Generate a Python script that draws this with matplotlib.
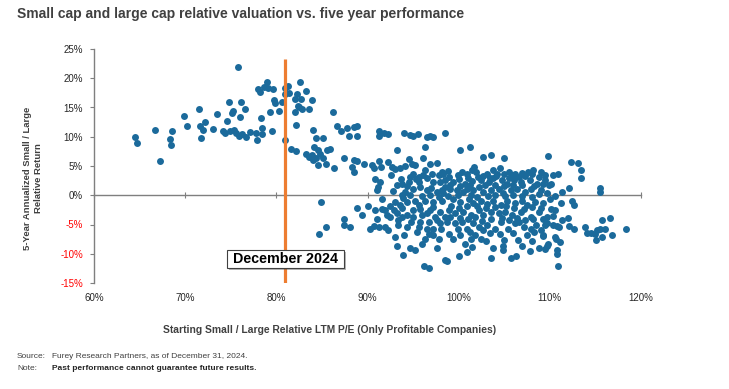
import matplotlib
matplotlib.use("Agg")
import matplotlib.pyplot as plt
import matplotlib.patheffects as pe

plt.rcParams['font.family'] = ['Liberation Sans', 'DejaVu Sans']

# 数据 (相对 P/E %, 五年年化相对回报 %)
pe_left = [64.5, 64.7, 66.7, 67.2, 68.3, 68.5, 68.6, 69.9, 70.2, 71.5, 71.6, 71.7, 72.0, 72.2,
           73.1, 73.5, 74.2, 74.4, 74.6, 74.8, 75.1, 75.2, 74.9, 75.4, 75.6, 75.8, 75.9, 76.0,
           76.1, 76.2, 76.6, 76.7, 77.1, 77.8, 77.9, 78.0, 78.2, 78.3, 78.4, 78.4, 78.7, 79.0,
           79.1, 79.3, 79.5, 79.6, 79.7, 79.9, 80.3, 80.6, 80.9, 80.9, 81.0, 81.3, 81.4, 81.6,
           82.0, 82.1, 82.2, 82.2, 82.3, 82.4, 82.6, 82.7, 82.8, 83.2, 83.3, 83.6, 83.6,
           82.5, 83.9, 84.0, 86.2]
ret_left = [9.9, 9.0, 11.1, 5.9, 9.6, 8.6, 10.9, 13.6, 11.8, 14.8, 11.8, 9.8, 11.1, 12.6,
            11.4, 13.9, 11.0, 10.6, 12.7, 15.9, 14.1, 14.4, 11.0, 11.2, 10.7, 22.0, 10.2, 13.3,
            15.9, 10.4, 14.8, 9.9, 10.8, 10.6, 9.4, 18.2, 17.6, 13.2, 11.5, 10.4, 18.5, 19.4,
            18.4, 14.3, 11.0, 18.1, 16.2, 15.7, 14.4, 15.9, 18.3, 17.3, 9.5, 18.7, 17.4, 7.9,
            16.5, 14.3, 12.0, 7.5, 17.3, 15.2, 19.4, 16.5, 14.8, 17.8, 7.1, 14.8, 6.6,
            15.1, 16.3, 11.2, 14.2]

pe_mid = [83.9, 84.1, 84.0, 84.3, 84.6, 84.4, 85.1, 84.6, 84.8, 85.1, 85.5, 85.6, 85.9, 86.3,
          86.7, 87.1, 87.7, 88.0, 88.5, 88.8, 88.9, 87.4, 88.3, 88.5, 88.9, 88.5, 84.9, 88.9,
          85.4, 84.7,
          91.3, 91.3, 91.8, 92.2, 94.0, 94.7, 95.0, 95.5, 96.5, 96.9, 97.2, 98.5, 96.3, 93.2,
          89.6, 90.5, 90.7, 91.3, 91.5, 92.2, 92.7, 93.0, 93.6, 94.1, 94.9, 95.2, 96.1, 96.9,
          97.6, 90.8, 91.4, 91.1, 91.0, 93.7, 93.8, 92.6, 94.7, 94.5, 95.0, 95.6, 95.6, 96.1,
          96.3, 96.5, 97.1, 97.2, 97.8, 98.3, 98.0, 95.8, 95.0, 94.1, 94.7, 93.8, 96.5, 96.9,
          97.6, 98.3, 98.5, 91.6, 93.0, 93.6, 94.3, 95.6, 95.2, 96.3, 97.2, 98.2, 90.1, 90.8,
          91.6, 91.9, 92.1, 92.9, 93.2, 93.8, 94.3, 95.8, 96.5, 96.9, 97.4, 98.0, 98.5, 89.4,
          91.0, 92.5, 93.4, 95.0, 95.8, 96.7, 97.6, 87.4, 87.4, 88.1, 90.3, 90.7, 91.3, 91.9,
          93.4, 94.3, 95.6, 96.5, 97.2, 98.1, 94.0, 96.3, 97.2, 93.2, 94.7, 95.2, 96.0, 97.6,
          93.9, 98.5, 96.2, 96.8,
          92.8, 93.2, 94.3, 95.3, 96.0, 97.0, 97.8, 93.9, 95.0, 96.0, 97.2, 94.8, 93.8, 97.9,
          95.4, 96.8, 92.2, 93.0, 97.8, 94.5, 92.5]
ret_mid = [6.8, 8.2, 6.0, 6.3, 5.1, 9.8, 9.8, 7.7, 7.1, 6.4, 5.4, 7.7, 7.9, 4.6,
           11.9, 11.0, 11.5, 10.1, 11.7, 11.9, 10.1, 6.3, 4.8, 6.1, 5.9, 4.0, -1.1, -2.1,
           -5.4, -6.6,
           11.0, 10.1, 10.7, 10.4, 10.7, 10.3, 10.1, 10.4, 10.0, 10.1, 10.0, 10.6, 8.3, 7.7,
           5.4, 5.1, 4.7, 5.9, 4.8, 5.7, 4.8, 4.5, 4.7, 5.0, 5.4, 5.1, 6.3, 5.4,
           5.5, 2.7, 2.3, 1.4, 0.9, 2.7, 2.0, 3.4, 3.1, 2.3, 3.7, 3.1, 2.3, 3.4,
           4.3, 2.9, 3.7, 2.3, 3.4, 3.7, 2.3, 1.4, 1.1, 0.6, 0.0, 0.0, 0.9, 0.0,
           0.6, 0.3, 1.4, -0.6, -1.1, -1.7, -1.1, -1.7, -0.9, -0.9, -1.1, -0.9, -1.9, -2.6,
           -2.3, -2.6, -3.3, -2.6, -3.1, -2.1, -3.4, -2.3, -3.1, -2.6, -3.7, -2.9, -3.7, -3.4,
           -4.0, -3.8, -4.2, -3.7, -4.6, -4.6, -4.3, -4.0, -5.1, -5.4, -5.7, -5.3, -5.4, -5.4,
           -5.1, -5.4, -5.4, -5.7, -5.7, -5.7, -6.8, -7.4, -6.8, -8.6, -9.1, -9.4, -8.4, -9.1,
           -10.2, -11.1, -12.1, -12.4,
           0.8, 1.8, 1.6, 2.8, -0.2, 1.3, -0.3, -0.5, -2.6, -3.4, -2.0, -4.6, -3.8, -4.8,
           -6.2, -6.6, -6.0, -7.2, -7.4, 6.2, -1.8]

pe_right = [100.2, 101.2, 102.7, 103.5, 105.0, 109.8, 98.2, 98.8, 100.4, 100.9, 101.5, 101.7,
            101.9, 102.7, 103.1, 103.8, 104.2, 104.5, 105.0, 105.5, 105.9, 106.6, 107.0, 107.6,
            108.2, 108.8, 98.5, 99.4, 100.0, 100.7, 101.5, 102.4, 103.3, 103.8, 104.7, 105.3,
            106.1, 106.8, 107.8, 108.6, 109.5, 109.9, 98.2, 99.1, 99.8, 100.5, 100.9, 101.6,
            102.2, 102.7, 103.6, 104.4, 104.9, 105.7, 106.4, 107.3, 107.9, 109.0, 109.7, 99.4,
            100.2, 101.1, 101.6, 102.5, 103.1, 103.8, 104.6, 105.3, 106.2, 106.9, 107.5, 108.4,
            109.3, 98.9, 99.6, 100.5, 101.3, 102.2, 102.7, 103.5, 104.4, 105.1, 105.9, 106.8,
            107.9, 108.8, 109.3, 98.7, 99.6, 100.4, 100.9, 101.6, 102.2, 102.7, 103.1, 104.0,
            104.6, 106.2, 106.6, 107.2, 107.9, 108.5, 109.0, 109.5, 98.9, 99.4, 100.2, 100.7,
            101.3, 101.8, 102.4, 101.5, 103.8, 104.9, 107.0, 108.8, 109.7, 98.7, 100.0, 100.9,
            103.5, 105.7, 106.3, 107.8,
            112.3, 113.1, 113.4, 113.4, 110.9, 110.1, 111.3, 112.1, 115.5, 115.5, 111.2, 112.4,
            112.7, 112.0, 111.3, 112.1, 112.7, 113.9, 114.1, 114.5, 115.2, 115.0, 115.5, 115.7,
            116.0, 116.6, 115.7, 115.1, 116.8, 118.3, 110.7, 111.1, 110.8, 110.8, 110.9, 109.5,
            104.9, 110.6, 109.5, 110.4, 110.1, 110.6, 109.7, 110.3, 109.7, 110.3, 110.8, 111.0,
            109.3, 110.6, 109.8,
            98.9, 99.9, 101.0, 102.1, 103.4, 104.1, 105.5, 106.2, 107.3, 108.0, 109.0,
            99.0, 100.2, 101.2, 102.9, 104.0, 105.0, 106.0, 107.0, 108.3, 109.2,
            98.8, 99.9, 101.3, 102.0, 103.2, 104.0, 105.1, 106.0, 107.0, 108.0, 108.8, 110.0,
            99.2, 100.0, 100.9, 102.0, 103.0, 104.0, 105.2, 106.1, 107.2, 108.0, 109.0,
            99.1, 100.1, 101.0, 101.8, 102.6, 103.6, 104.8, 105.5, 106.4, 107.3, 108.2,
            99.9, 101.2, 103.4, 104.5, 105.4, 106.0, 107.5, 108.3, 109.2, 103.0, 105.0, 106.5,
            108.0]
ret_right = [7.7, 8.3, 6.5, 6.8, 6.3, 6.7, 4.0, 4.1, 4.0, 3.7, 4.4, 4.8,
             3.9, 3.3, 3.7, 4.3, 3.7, 4.6, 3.6, 4.0, 3.4, 3.1, 3.8, 4.0,
             4.3, 3.1, 2.6, 2.3, 2.7, 2.0, 2.4, 2.6, 2.3, 2.9, 2.6, 2.0,
             2.6, 2.3, 2.6, 2.0, 2.6, 1.7, 0.9, 1.1, 0.9, 0.6, 1.1, 0.9,
             1.4, 0.6, 0.9, 1.1, 0.3, 0.9, 1.1, 0.6, 1.1, 0.9, 0.3, -0.6,
             -1.1, -0.7, -1.4, -0.9, -1.5, -0.9, -1.7, -0.9, -1.4, -0.9, -1.7, -1.1,
             -1.4, -2.6, -3.1, -2.9, -3.4, -2.6, -3.4, -2.9, -3.1, -2.9, -3.4, -2.9,
             -3.7, -2.9, -4.0, -4.6, -4.8, -4.6, -5.7, -4.8, -5.4, -6.0, -5.1, -5.7,
             -4.6, -4.8, -4.6, -5.5, -5.7, -5.1, -5.9, -5.1, -6.6, -7.4, -6.8, -8.3,
             -7.4, -6.8, -7.4, -8.9, -9.0, -8.7, -8.6, -9.1, -8.6, -11.2, -10.3, -9.7,
             -10.7, -10.8, -10.3, -9.5,
             5.7, 5.5, 4.3, 2.9, 3.7, 2.0, 0.6, 1.3, 1.3, 0.5, -1.3, -1.0,
             -1.7, -3.9, -4.3, -5.3, -5.8, -5.5, -6.4, -6.4, -6.0, -6.6, -5.7, -4.3,
             -5.7, -3.9, -7.1, -7.6, -6.8, -5.8, -7.4, -8.0, -9.4, -10.0, -12.1, -9.2,
             -9.4, -0.2, 3.4, 3.4, -2.3, -2.6, -3.7, -3.6, -4.8, -5.1, -5.3, -5.5,
             -6.8, -7.1, -8.3,
             3.2, 3.4, 3.0, 3.2, 3.0, 3.3, 2.9, 3.6, 3.3, 3.6, 3.9,
             1.7, 1.6, 1.8, 1.8, 1.7, 1.5, 1.8, 1.7, 1.5, 1.9,
             -0.2, 0.1, 0.0, -0.3, -0.2, 0.0, -0.2, 0.1, -0.1, -0.3, 0.2, -0.6,
             -1.8, -2.1, -1.9, -1.8, -2.2, -2.0, -1.9, -2.2, -2.4, -2.0, -2.2,
             -3.8, -3.9, -4.1, -3.8, -4.4, -4.0, -3.9, -4.2, -3.9, -4.3, -4.0,
             -5.8, -6.2, -6.4, -6.6, -5.8, -6.5, -6.8, -6.2, -7.0, -7.8, -7.6, -7.6,
             -7.8]

dec2024_pe = 81.0
line_top = 23.3
x_ticks = [60, 70, 80, 90, 100, 110, 120]
y_ticks = [-15, -10, -5, 0, 5, 10, 15, 20, 25]

fig = plt.figure(figsize=(7.29, 3.89), dpi=100)
ax = fig.add_axes([94 / 729, 1 - 283 / 389, (641 - 94) / 729, (283 - 49) / 389])

dot = '#1b6a9b'
for xs, ys in [(pe_left, ret_left), (pe_mid, ret_mid), (pe_right, ret_right)]:
    ax.scatter(xs, ys, s=25, color=dot, linewidths=0, zorder=3)

ax.plot([dec2024_pe, dec2024_pe], [-15, line_top], color='#ED7D31', lw=2.3, zorder=4,
        solid_capstyle='butt')
t = ax.text(dec2024_pe, -10.9, ' December 2024 ', ha='center', va='center', fontsize=10.3,
            fontweight='bold', color='black', zorder=5,
            bbox=dict(boxstyle='square,pad=0.15', fc='white', ec='#404040', lw=0.8))
t.get_bbox_patch().set_path_effects([pe.SimplePatchShadow(offset=(1.5, -1.5), alpha=0.4), pe.Normal()])

ax.set_xlim(60, 120)
ax.set_ylim(-15, 25)
for s in ['top', 'right']:
    ax.spines[s].set_visible(False)
ax.spines['bottom'].set_position(('data', 0))
ax.spines['bottom'].set_bounds(60, 120)
for s in ['left', 'bottom']:
    ax.spines[s].set_color('#7f7f7f')
    ax.spines[s].set_linewidth(1.0)

ax.set_yticks(y_ticks)
ax.set_yticklabels([f'{v}%' for v in y_ticks])
ax.tick_params(axis='y', direction='out', length=3, color='#7f7f7f', labelsize=7, pad=5)
for lbl, v in zip(ax.get_yticklabels(), y_ticks):
    lbl.set_color('#ff0000' if v < 0 else '#262626')

ax.set_xticks(x_ticks)
ax.tick_params(axis='x', direction='inout', length=5, color='#7f7f7f', labelbottom=False)
for v in x_ticks:
    ax.annotate(f'{v}%', xy=(v, 0), xycoords=('data', 'axes fraction'), xytext=(0, -7),
                textcoords='offset points', ha='center', va='top', fontsize=7, color='#262626')

fig.text(17 / 729, 1 - 14 / 389, 'Small cap and large cap relative valuation vs. five year performance',
         fontsize=10, fontweight='bold', color='#404040', va='center')
fig.text(33 / 729, 1 - 178 / 389, '5-Year Annualized Small / Large\nRelative Return', rotation=90,
         ha='center', va='center', fontsize=6.8, fontweight='bold', color='#404040', multialignment='center')
fig.text(330 / 729, 1 - 330 / 389, 'Starting Small / Large Relative LTM P/E (Only Profitable Companies)',
         ha='center', va='center', fontsize=7.4, fontweight='bold', color='#404040')
fig.text(17 / 729, 1 - 357 / 389, 'Source:', fontsize=6, color='#404040', va='center')
fig.text(52 / 729, 1 - 357 / 389, 'Furey Research Partners, as of December 31, 2024.', fontsize=6,
         color='#404040', va='center')
fig.text(17 / 729, 1 - 369 / 389, 'Note:', fontsize=6, color='#404040', va='center')
fig.text(52 / 729, 1 - 369 / 389, 'Past performance cannot guarantee future results.', fontsize=6,
         fontweight='bold', color='#262626', va='center')

fig.savefig('out.png', dpi=100)
